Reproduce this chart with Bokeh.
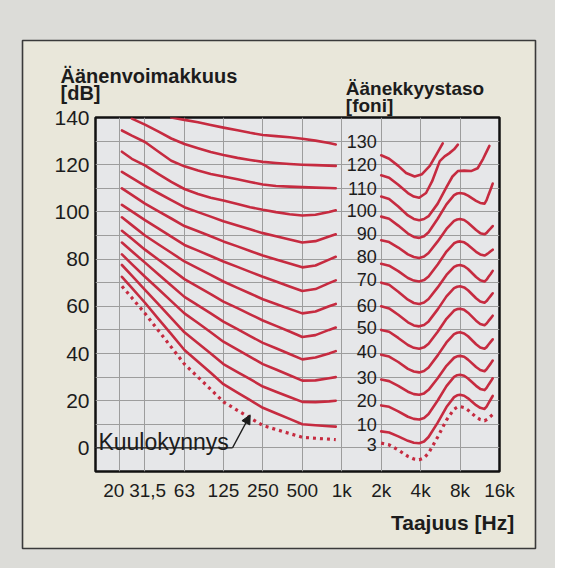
from bokeh.plotting import figure
from bokeh.models import (FixedTicker, Label, Arrow, NormalHead, Range1d, ColumnDataSource)
from bokeh.core.properties import value
from bokeh.embed import file_html
from bokeh.resources import INLINE

# ---------------- data ----------------
# left part of the equal-loudness contours: frequency points (Hz) and levels (dB)
F_LEFT = [21, 25, 31.5, 40, 50, 63, 80, 100, 125, 160, 200, 250, 315, 400, 500, 630, 800, 900]
L3 = [68.5, 63.6, 57, 49.6, 42.7, 35.5, 30, 24.8, 19.5, 15.9, 12.7, 9.5, 7.8, 6.1, 4.5, 4.1, 3.7, 3.5]
L10 = [72.5, 67.8, 61.5, 54.6, 48.2, 41.5, 36.5, 31.8, 27, 23.4, 20.2, 17, 14.7, 12.3, 10, 9.6, 9.2, 9]
L20 = [77.5, 73, 67, 60.8, 55, 49, 44.3, 40, 35.5, 32.1, 29.1, 26, 23.8, 21.6, 19.5, 19.4, 19.7, 20]
L30 = [82, 77.9, 72.5, 67.2, 62.2, 57, 52.9, 49, 45, 41.6, 38.6, 35.5, 33.2, 30.8, 28.5, 28.6, 29.5, 30]
L40 = [87, 83.3, 78.5, 73.5, 68.8, 64, 60.4, 57, 53.5, 50.3, 47.4, 44.5, 42.2, 39.8, 37.5, 38.3, 40, 41]
L50 = [92, 88.6, 84, 79.7, 75.7, 71.5, 68.2, 65.2, 62, 59.2, 56.6, 54, 51.7, 49.3, 47, 47.8, 50, 51]
L60 = [97.7, 94.4, 90, 86.2, 82.7, 79, 76.1, 73.3, 70.5, 67.8, 65.4, 63, 61, 58.9, 57, 57.8, 60, 61]
L70 = [103, 100.2, 96.5, 92.9, 89.5, 86, 83.6, 81.3, 79, 76.7, 74.6, 72.5, 70.5, 68.4, 66.5, 67.3, 69.8, 71]
L80 = [110, 107.2, 103.5, 100.2, 97.2, 94, 91.8, 89.7, 87.5, 85.4, 83.4, 81.5, 79.8, 78.1, 76.5, 77.3, 79.8, 81]
L90 = [117, 114.4, 111, 107.9, 105, 102, 99.9, 98, 96, 94.2, 92.6, 91, 89.7, 88.3, 87, 87.6, 89.6, 90.5]
L100 = [125.5, 122.5, 119.7, 116, 112.7, 109.7, 107.6, 106, 104.8, 103.3, 102, 100.9, 99.9, 99, 98.5, 98.8, 100, 100.7]
L110 = [134.5, 132.3, 129.6, 125.5, 121.7, 119.3, 117.5, 116.1, 115, 113.8, 112.7, 111.6, 111, 110.7, 110.5, 110.3, 110.1, 110]
F_L120 = [25, 31.5, 40, 50, 63, 80, 100, 125, 160, 200, 250, 315, 400, 500, 630, 800, 900]
L120 = [139.5, 137, 134, 131.1, 128.8, 127, 125.4, 124.1, 122.9, 122, 121.2, 120.7, 120.3, 120, 119.8, 119.6, 119.5]
F_L130 = [50, 63, 80, 100, 125, 160, 200, 250, 315, 400, 500, 630, 800, 900]
L130 = [140, 139, 138, 136.8, 135.7, 134.6, 133.5, 132.6, 132.1, 131.6, 131, 130.2, 129.2, 128.6]

# right part of the contours
F_RIGHT = [2000, 2300, 2700, 3200, 3550, 3900, 4250, 4600, 5400, 6300, 7200, 7600, 8000,
           8600, 9200, 10600, 11400, 12300, 12750, 13200, 13700, 14200]
F_R3 = [2000, 2300, 2700, 3200, 3550, 3900, 4250, 4600, 5400, 6300, 7200, 7600, 8000,
        8600, 9200, 10600, 11400, 12300, 12900, 13500, 14100, 14800]
R3 = [2, 1.3, -0.9, -3.6, -4.7, -5, -4.2, -2.2, 4.6, 11.8, 16.4, 17.2, 17.5, 17.1, 16.0, 13.1, 12.0, 11.5, 12.1, 13.1, 14.0, 15]
R10 = [7, 6.5, 4.9, 3.0, 2.2, 2, 2.7, 4.6, 10.7, 17.3, 21.5, 22.3, 22.5, 22.1, 21.0, 18.1, 17.0, 16.5, 17.5, 19.0, 20.5, 22]
R20 = [18, 17.4, 15.5, 13.2, 12.3, 12, 12.7, 14.4, 20.1, 26.2, 30.1, 30.8, 31, 30.6, 29.4, 26.3, 25.0, 24.5, 25.4, 26.8, 28.1, 29.5]
R30 = [29, 28.3, 26.3, 23.8, 22.8, 22.5, 23.1, 24.6, 29.5, 34.8, 38.2, 38.8, 39, 38.6, 37.4, 34.3, 33.0, 32.5, 33.3, 34.5, 35.7, 37]
R40 = [39.5, 38.7, 36.4, 33.5, 32.4, 32, 32.6, 34.1, 39.2, 44.7, 48.2, 48.8, 49, 48.5, 47.3, 43.9, 42.5, 42, 42.7, 43.8, 44.9, 46]
R50 = [50, 49.2, 46.6, 43.6, 42.4, 42, 42.6, 44.1, 49.2, 54.7, 58.2, 58.8, 59, 58.5, 57.3, 53.9, 52.5, 52, 52.7, 53.8, 54.9, 56]
R60 = [60, 59.1, 56.4, 53.2, 51.9, 51.5, 52.1, 53.6, 58.7, 64.2, 67.7, 68.3, 68.5, 68.0, 66.8, 63.4, 62.0, 61.5, 62.2, 63.3, 64.4, 65.5]
R70 = [70, 69.1, 66.2, 62.8, 61.4, 61, 61.6, 63.1, 68.0, 73.3, 76.7, 77.3, 77.5, 77.0, 75.8, 72.4, 71.0, 70.5, 71.3, 72.5, 73.7, 75]
R80 = [78, 77.2, 74.9, 72.0, 70.9, 70.5, 71.1, 72.6, 77.7, 83.2, 86.7, 87.3, 87.5, 87.1, 86.0, 83.1, 82.0, 81.5, 82.0, 82.6, 83.3, 84]
R90 = [88, 87.2, 84.9, 82.0, 80.9, 80.5, 81.1, 82.6, 87.5, 92.8, 96.2, 96.8, 97, 96.6, 95.4, 92.3, 91.0, 90.5, 91.1, 92.1, 93.0, 94]
R100 = [98, 97.1, 94.2, 90.8, 89.4, 89, 89.7, 91.4, 97.1, 103.2, 107.1, 107.8, 108, 107.7, 106.9, 104.7, 103.8, 103.5, 105.0, 107.3, 109.6, 112]
F_R110 = [2000, 2300, 2700, 3200, 3550, 3900, 4250, 4600, 5400, 6300, 7000, 7700, 8600, 9700, 10900, 12000, 12700, 13400]
R110 = [106.5, 105.5, 102.3, 98.5, 97.0, 96.5, 97.0, 98.2, 103.5, 110.5, 115, 117.3, 117.5, 117.3, 118.5, 122.5, 125.3, 128]
F_R120 = [2000, 2300, 2700, 3200, 3550, 3900, 4400, 4900, 5600, 6100, 6600, 7200, 7700]
R120 = [115.5, 114.5, 111.5, 108, 106.5, 106, 108, 113, 121.5, 123.5, 124.8, 126.5, 128.5]
F_R130 = [2000, 2300, 2700, 3100, 3600, 4100, 4700, 5300, 5900]
R130 = [124, 122.5, 119.5, 116.5, 115, 116, 119.5, 124.5, 129]

# loudness-level labels (phon) and their heights (dB)
PHON_TEXT = ["130", "120", "110", "100", "90", "80", "70", "60", "50", "40", "30", "20", "10", "3"]
PHON_DB = [130, 120, 110, 100.5, 91, 81, 71.5, 60.5, 51, 41, 30, 20, 10, 1.5]
PHON_LABEL_F = 1850

X_TICKS = [20, 31.5, 63, 125, 250, 500, 1000, 2000, 4000, 8000, 16000]
X_TICK_TEXT = ["20", "31,5", "63", "125", "250", "500", "1k", "2k", "4k", "8k", "16k"]
Y_TICKS = [0, 20, 40, 60, 80, 100, 120, 140]
Y_GRID = [0, 10, 20, 30, 40, 50, 60, 70, 80, 90, 100, 110, 120, 130]

# threshold annotation: leader line and arrow tip (Hz, dB)
KUULO_X = [13.2, 146.6, 200]
KUULO_Y = [0, 0, 14]

# ---------------- styling / page layout ----------------
RED = "#c62b40"
INK = "#1c1c1c"
CARD = "#e9e7da"
OUTSIDE = "#dcdcd8"
EDGE = "#3a3a3a"
PLOT_BG = "#e6e7e9"
GRID = "#9d9d9d"
SANS = "Liberation Sans"
NBSP = "\u00a0"   # nudges the two crowded low-frequency labels apart

X_MIN, X_MAX, Y_MIN, Y_MAX = 13.2, 16000, -10, 140
# edge of the printed card, in the chart's own (Hz, dB) coordinates
CARD_X = [3.66, 30120, 30120, 3.66]
CARD_Y = [-42.6, -42.6, 172.6, 172.6]
PAGE_X = [1, 1e6, 1e6, 1]
PAGE_Y = [-100, -100, 300, 300]

p = figure(width=555, height=568, x_axis_type="log",
           x_range=Range1d(X_MIN, X_MAX), y_range=Range1d(Y_MIN, Y_MAX),
           min_border_left=95, min_border_right=56, min_border_top=117, min_border_bottom=97,
           output_backend="svg", toolbar_location=None,
           background_fill_color=PLOT_BG, border_fill_color=CARD)
p.outline_line_color = "#111111"
p.outline_line_width = 2.5

tick_text = dict(zip(X_TICKS, X_TICK_TEXT))
tick_text[X_TICKS[0]] = X_TICK_TEXT[0] + NBSP * 2
tick_text[X_TICKS[1]] = NBSP + X_TICK_TEXT[1]
p.xaxis.ticker = FixedTicker(ticks=X_TICKS)
p.xaxis.major_label_overrides = tick_text
p.yaxis.ticker = FixedTicker(ticks=Y_TICKS)
for ax in (p.xaxis[0], p.yaxis[0]):
    ax.axis_line_color = None
    ax.major_tick_line_color = None
    ax.minor_tick_line_color = None
    ax.major_tick_out = 0
    ax.major_tick_in = 0
    ax.minor_tick_out = 0
    ax.minor_tick_in = 0
    ax.major_label_text_font = SANS
    ax.major_label_text_color = INK
p.xaxis.major_label_text_font_size = "19px"
p.yaxis.major_label_text_font_size = "21px"
p.xaxis.major_label_standoff = 8
p.yaxis.major_label_standoff = 6

p.xgrid.ticker = FixedTicker(ticks=X_TICKS)
p.ygrid.ticker = FixedTicker(ticks=Y_GRID)
for g in (p.xgrid[0], p.ygrid[0]):
    g.grid_line_color = GRID
    g.grid_line_width = 1

solid = [
    (F_LEFT, L10), (F_LEFT, L20), (F_LEFT, L30), (F_LEFT, L40), (F_LEFT, L50),
    (F_LEFT, L60), (F_LEFT, L70), (F_LEFT, L80), (F_LEFT, L90), (F_LEFT, L100),
    (F_LEFT, L110), (F_L120, L120), (F_L130, L130),
    (F_RIGHT, R10), (F_RIGHT, R20), (F_RIGHT, R30), (F_RIGHT, R40), (F_RIGHT, R50),
    (F_RIGHT, R60), (F_RIGHT, R70), (F_RIGHT, R80), (F_RIGHT, R90), (F_RIGHT, R100),
    (F_R110, R110), (F_R120, R120), (F_R130, R130),
]
for fx, db in solid:
    p.line(fx, db, line_color=RED, line_width=2.6, line_join="round", line_cap="round")
for fx, db in [(F_LEFT, L3), (F_R3, R3)]:
    p.line(fx, db, line_color=RED, line_width=3.2, line_dash="3 4")

src = ColumnDataSource(dict(x=[PHON_LABEL_F] * len(PHON_TEXT), y=PHON_DB, t=PHON_TEXT))
p.text(x="x", y="y", text="t", source=src, text_align="right", text_baseline="middle",
       text_font=value(SANS), text_font_size="18px", text_color=INK)

p.line(KUULO_X[:2], KUULO_Y[:2], line_color=INK, line_width=1.3)
p.add_layout(Arrow(end=NormalHead(size=9, fill_color=INK, line_color=INK, line_width=1),
                   x_start=KUULO_X[1], y_start=KUULO_Y[1], x_end=KUULO_X[2], y_end=KUULO_Y[2],
                   line_color=INK, line_width=1.3))
p.add_layout(Label(x=13.9, y=2.6, text="Kuulokynnys", text_font=SANS, text_font_size="23px",
                   text_color=INK, text_baseline="alphabetic", text_align="left"))

# page around the card (drawn on top, outside the chart frame only)
p.multi_polygons(xs=[[[PAGE_X, CARD_X]]], ys=[[[PAGE_Y, CARD_Y]]], fill_color=OUTSIDE,
                 line_color=EDGE, line_width=1.6, level="overlay")


# titles: anchored at a corner of the chart frame and shifted in pixels
def words(x, y, text, size, dx, dy, align="left"):
    p.text(x=[x], y=[y], text=[text], x_offset=dx, y_offset=dy, text_font=value(SANS),
           text_font_size=size, text_font_style="bold", text_color=INK,
           text_align=align, text_baseline="alphabetic", level="overlay")


words(13.3, 139.9, "Äänenvoimakkuus", "20px", -35.4, -41.9)
words(13.3, 139.9, "[dB]", "20px", -35.4, -24.5)
words(1074, 139.9, "Äänekkyystaso", "19px", 0, -29.2)
words(1074, 139.9, "[foni]", "19px", 0, -11.9)
words(15900, -9.9, "Taajuus [Hz]", "21px", 15.1, 51.2, align="right")

open("out.html", "w").write(file_html(p, INLINE))
